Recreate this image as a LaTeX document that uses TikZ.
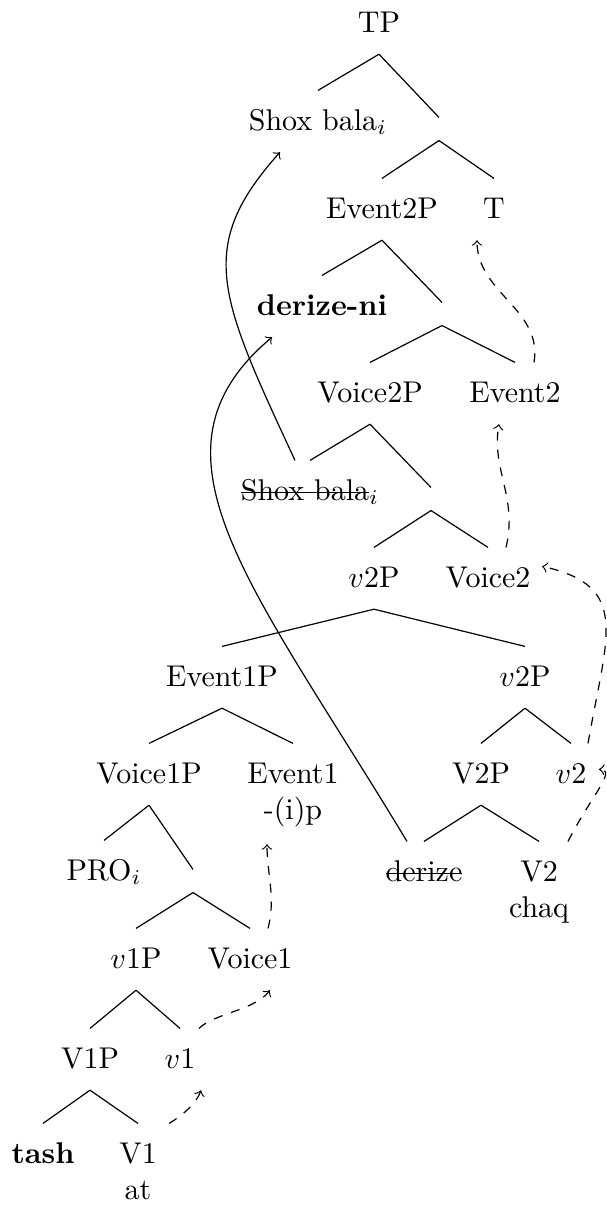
\documentclass[tikz,border=0pt]{standalone}
\usetikzlibrary{calc}
\newsavebox{\strikebox}
\newcommand{\struck}[1]{\sbox{\strikebox}{#1}%
  \rlap{\rule[0.55ex]{\wd\strikebox}{0.4pt}}\usebox{\strikebox}}
\tikzset{
  lbl/.style={anchor=base,inner xsep=3.33pt,inner ysep=3.5pt,
    text height=9.5pt,text depth=3.7pt},
  gap/.style={inner sep=0pt,minimum height=7.3pt,minimum width=0pt},
  phrasal/.style={->},
  headmv/.style={->,dashed}
}

\begin{document}
\begin{tikzpicture}[x=0.33333pt,y=-0.33333pt]
  \useasboundingbox (0,0) rectangle (607,1205);
  % upper spine
  \node[lbl] (tp) at (379,32) {TP};
  \node[lbl] (shox) at (318,130) {Shox bala$_i$};
  \node[gap] (g1) at (439,129) {};
  \node[lbl] (evtwoP) at (382,218) {Event2P};
  \node[lbl] (tt) at (494,218) {T};
  \node[lbl] (derni) at (322,315) {\textbf{derize-ni}};
  \node[gap] (g2) at (442,314) {};
  \node[lbl] (vctwoP) at (370,402) {Voice2P};
  \node[lbl] (evtwo) at (515,402) {Event2};
  \node[lbl] (shoxcp) at (310,500) {\struck{Shox bala}$_i$};
  \node[gap] (g3) at (431,499) {};
  \node[lbl] (vtwoP) at (374,587) {$v$2P};
  \node[lbl] (vctwo) at (488,587) {Voice2};
  % left: first event
  \node[lbl] (evoneP) at (222,686) {Event1P};
  \node[lbl] (vconeP) at (149,783) {Voice1P};
  \node[lbl] (evone) at (293,783) {Event1};
  \node[lbl] (evonex) at (293,819) {-(i)p};
  \node[lbl] (pro) at (104,880) {PRO$_i$};
  \node[gap] (g4) at (193,881) {};
  \node[lbl] (voneP) at (136,968) {$v$1P};
  \node[lbl] (vcone) at (250,968) {Voice1};
  \node[lbl] (VoneP) at (90,1068) {V1P};
  \node[lbl] (vone) at (180,1068) {$v$1};
  \node[lbl] (tash) at (43,1163) {\textbf{tash}};
  \node[lbl] (Vone) at (138,1163) {V1};
  \node[lbl] (Vonex) at (138,1199) {at};
  % right: second verb
  \node[lbl] (vtwoPb) at (525,686) {$v$2P};
  \node[lbl] (VtwoP) at (481,783) {V2P};
  \node[lbl] (vtwo) at (571,783) {$v$2};
  \node[lbl] (dercp) at (424,881) {\struck{derize}};
  \node[lbl] (Vtwo) at (539,881) {V2};
  \node[lbl] (Vtwox) at (539,917) {chaq};
  % branches
  \foreach \p/\c in {tp/shox,tp/g1,g1/evtwoP,g1/tt,evtwoP/derni,evtwoP/g2,
      g2/vctwoP,g2/evtwo,vctwoP/shoxcp,vctwoP/g3,g3/vtwoP,g3/vctwo,
      vtwoP/evoneP,vtwoP/vtwoPb,evoneP/vconeP,evoneP/evone,vconeP/pro,
      vconeP/g4,g4/voneP,g4/vcone,voneP/VoneP,voneP/vone,VoneP/tash,
      VoneP/Vone,vtwoPb/VtwoP,vtwoPb/vtwo,VtwoP/dercp,VtwoP/Vtwo}
    \draw (\p.south) -- (\c.north);
  % phrasal movement
  \draw[phrasal] ($(shoxcp.north)+(-15,0)$) .. controls +(-76,-164) and +(-85,95)
    .. ($(shox.south)+(-38,0)$);
  \draw[phrasal] ($(dercp.north)+(-17,0)$) .. controls +(-155,-257) and +(-138,116)
    .. ($(derni.south)+(-50,0)$);
  % head movement
  \draw[headmv] ($(Vone.north)+(31,0)$) .. controls +(14,-8) and +(-4,12)
    .. ($(vone.south)+(21,0)$);
  \draw[headmv] ($(vone.north)+(19,0)$) .. controls +(15,-15) and +(-15,20)
    .. ($(vcone.south)+(20,0)$);
  \draw[headmv] ($(vcone.north)+(18,0)$) .. controls +(8,-30) and +(0,30)
    .. ($(evonex.south)+(-26,3)$);
  \draw[headmv] ($(Vtwo.north)+(29,0)$) .. controls +(24,-47) and +(18,1)
    .. ($(vtwo.east)+(2,-5)$);
  \draw[headmv] ($(vtwo.north)+(17,0)$) .. controls +(19,-109) and +(89,20)
    .. ($(vctwo.east)+(1,-12)$);
  \draw[headmv] ($(vctwo.north)+(18,0)$) .. controls +(12,-50) and +(-8,45)
    .. ($(evtwo.south)+(-16,0)$);
  \draw[headmv] ($(evtwo.north)+(19,0)$) .. controls +(9,-53) and +(0,53)
    .. ($(tt.south)+(-17,0)$);
\end{tikzpicture}
\end{document}
